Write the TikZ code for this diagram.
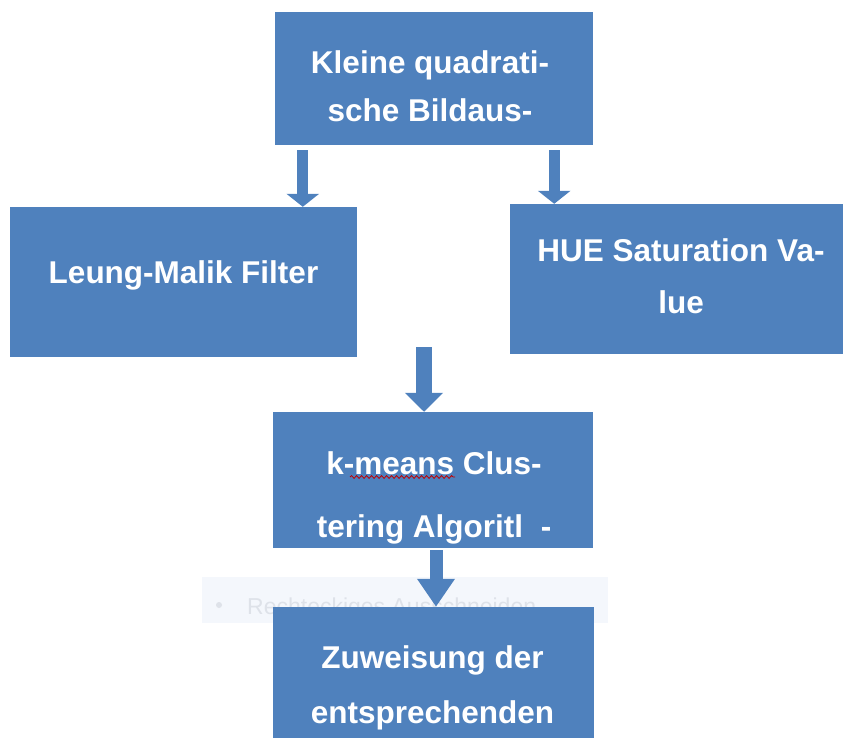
\documentclass[tikz,border=0pt]{standalone}
\usepackage{fontspec}
\setmainfont{Liberation Sans}
\usepackage{xcolor}
\usepackage{tikz}
\usetikzlibrary{arrows.meta, decorations.pathmorphing}

\definecolor{boxblue}{RGB}{79,129,189}
\definecolor{ghostfill}{RGB}{244,247,252}
\definecolor{ghostgrey}{RGB}{222,226,233}

\begin{document}
\begin{tikzpicture}[x=1pt, y=-1pt, >=latex]
		\tikzstyle{box} = [fill=boxblue, draw=none, rectangle, inner sep=0pt]
		\tikzstyle{boxtext} = [text=white, align=center, inner sep=0pt, font=\fontsize{31.5}{48}\selectfont\bfseries]
		\tikzstyle{ghosttext} = [text=ghostgrey, inner sep=0pt, font=\fontsize{23}{28}\selectfont]
		\tikzstyle{arrow} = [draw=boxblue, line width=11pt, shorten <=5pt, -{Triangle[width=32pt, length=13pt]}]
		\tikzstyle{bigarrow} = [draw=boxblue, line width=16pt, -{Triangle[width=37pt, length=19pt]}]
		\tikzstyle{longarrow} = [draw=boxblue, line width=13pt, shorten <=2pt, -{Triangle[width=36pt, length=28pt]}]
		\tikzstyle{squiggle} = [draw=red!75!black, line width=0.8pt, decorate, decoration={snake, amplitude=1.4pt, segment length=5pt}]
		
		\useasboundingbox (0, 0) rectangle (843, 738);
		
		\node[fill=ghostfill, minimum width=406pt, minimum height=46pt, inner sep=0pt]	at (405, 600)	(ghost)	{};
		\node[circle, fill=ghostgrey, minimum size=6pt, inner sep=0pt]	at (219, 605)	(dot)	{};
		\node[ghosttext, anchor=west]	at (247, 609)	(ghostl)	{Rechteckiges Ausschneiden};
		
		\node[box, minimum width=318pt, minimum height=133pt]	at (434, 78.5)	(crop)	{};
		\node[box, minimum width=347pt, minimum height=150pt]	at (183.5, 282)	(lm)	{};
		\node[box, minimum width=340pt, minimum height=150pt]	at (680, 279)	(hsv)	{};
		\node[box, minimum width=320pt, minimum height=136pt]	at (433, 480)	(km)	{};
		\node[box, minimum width=321pt, minimum height=138pt]	at (433.5, 676)	(assign)	{};
		
		\node[boxtext]	at (430, 86)		(cropl)		{Kleine quadrati-\\sche Bildaus-};
		\node[boxtext]	at (183.5, 275.5)	(lml)		{Leung-Malik Filter};
		\node[boxtext]	at (681, 276.5)		(hsvl)		{HUE Saturation Va-\\[4pt]lue};
		\node[boxtext]	at (434, 497.5)		(kml)		{k-means Clus-\\[15pt]tering Algoritl\ \ -};
		\node[boxtext]	at (432.5, 687.5)	(assignl)	{Zuweisung der\\[7pt]entsprechenden};
		
		\draw [squiggle] (350, 477) -- (455, 477);
		
		\coordinate (merge) at (424, 347);
		
		\draw [arrow] ([xshift=28pt]crop.south west) -- ([xshift=28pt]crop.south west |- lm.north);
		\draw [arrow] ([xshift=-39pt]crop.south east) -- ([xshift=-39pt]crop.south east |- hsv.north);
		\draw [bigarrow] (merge) -- (merge |- km.north);
		\draw [longarrow] ([xshift=3pt]km.south) -- ([xshift=3pt]km.south |- assign.north);
		
	\end{tikzpicture}
\end{document}
